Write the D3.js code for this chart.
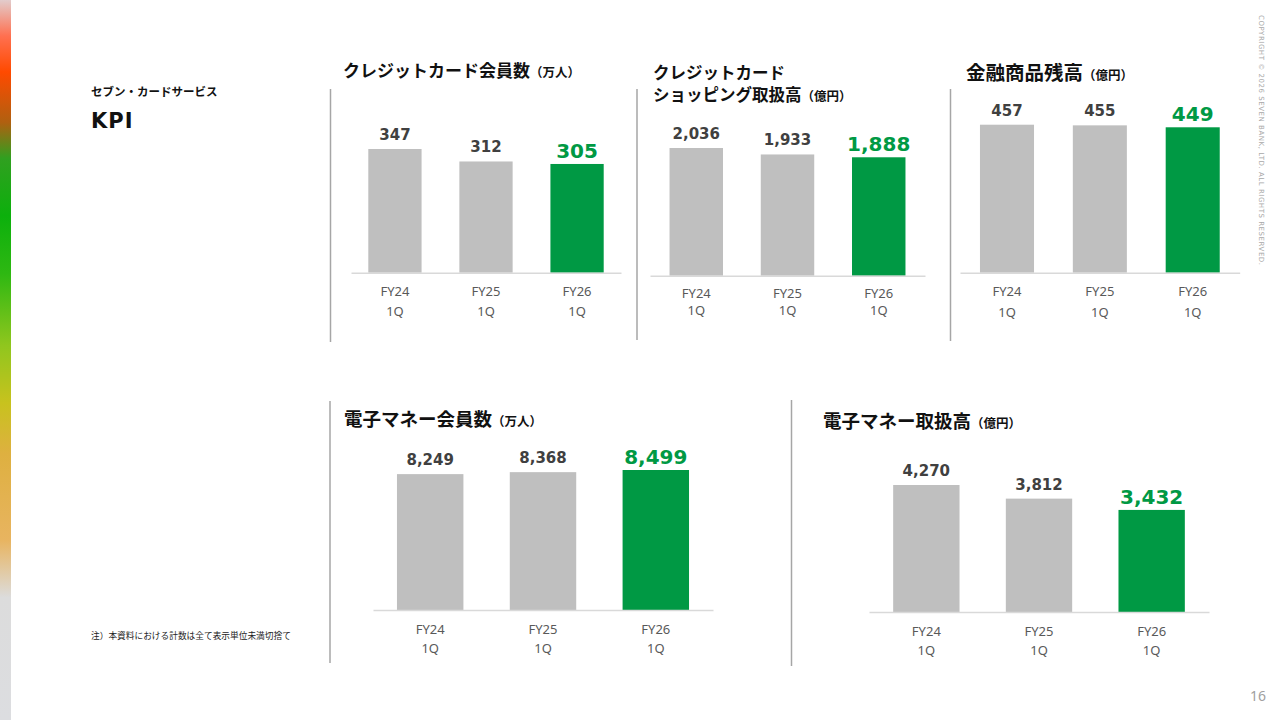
<!DOCTYPE html>
<html>
<head>
<meta charset="utf-8">
<script src="https://cdn.jsdelivr.net/npm/d3@7"></script>
<style>
  body { margin: 0; background: #fff; }
  svg { display: block; }
</style>
</head>
<body>
<div id="slide"></div>
<script>
// Data
var categories = ["FY24", "FY25", "FY26"];
var quarterLabel = "1Q";
var creditMembers = [347, 312, 305];       // 万人
var creditShopping = [2036, 1933, 1888];   // 億円
var financialBalance = [457, 455, 449];    // 億円
var emoneyMembers = [8249, 8368, 8499];    // 万人
var emoneyVolume = [4270, 3812, 3432];     // 億円

// Layout of the five small panels
var panels = [
    {values: creditMembers, title: ["クレジットカード会員数"], unit: "（万人）",
     titleX: 343, titleY: [77], titleSize: 17,
     axis: [351, 621], pad: [0.415, 0.19], base: 272.7, top: 149, catDy: [23.5, 43.5]},
    {values: creditShopping, title: ["クレジットカード", "ショッピング取扱高"], unit: "（億円）",
     titleX: 653, titleY: [79, 101], titleSize: 16.5,
     axis: [650, 925], pad: [0.414, 0.214], base: 275.7, top: 148, catDy: [22, 39]},
    {values: financialBalance, title: ["金融商品残高"], unit: "（億円）",
     titleX: 966, titleY: [79.5], titleSize: 19.5,
     axis: [960, 1239.7], pad: [0.418, 0.215], base: 272.7, top: 124.7, catDy: [23, 44]},
    {values: emoneyMembers, title: ["電子マネー会員数"], unit: "（万人）",
     titleX: 344, titleY: [426], titleSize: 18.5,
     axis: [373, 713], pad: [0.411, 0.2125], base: 610, top: 470, catDy: [23.5, 42.5]},
    {values: emoneyVolume, title: ["電子マネー取扱高"], unit: "（億円）",
     titleX: 823, titleY: [428], titleSize: 18.5,
     axis: [869, 1209], pad: [0.411, 0.2145], base: 612, top: 485, catDy: [23.5, 42.5]}
];

var dividers = [
    [330.5, 89, 342], [637, 89, 340], [950.5, 89, 341],
    [330, 401, 663], [791.5, 400, 666]
];

var jpFont = "'Noto Sans CJK JP', 'Noto Sans', sans-serif";
var numFont = "'DejaVu Sans', Verdana, sans-serif";
var gray = "#bfbfbf", green = "#009944";

var svg = d3.select("#slide").append("svg")
    .attr("width", 1280)
    .attr("height", 720);

// Left colour strip
var grad = svg.append("defs").append("linearGradient")
    .attr("id", "strip")
    .attr("x1", 0).attr("y1", 0).attr("x2", 0).attr("y2", 1);
[[0, "#e2cccc"], [0.05, "#ff7050"], [0.1, "#ff4a00"], [0.17, "#b06010"],
 [0.22, "#30a020"], [0.3, "#0cb00c"], [0.38, "#2eb812"], [0.48, "#90c61e"],
 [0.56, "#c8c21e"], [0.63, "#deb040"], [0.75, "#e8b460"], [0.83, "#dcdcdc"],
 [1, "#dcdde0"]].forEach(function(s) {
    grad.append("stop").attr("offset", s[0]).attr("stop-color", s[1]);
});
svg.append("rect")
    .attr("x", 0).attr("y", 0)
    .attr("width", 11).attr("height", 720)
    .attr("fill", "url(#strip)");

// Slide heading and note
svg.append("text")
    .attr("x", 91).attr("y", 96)
    .style("font-family", jpFont).style("font-weight", 700)
    .style("font-size", "11.5px").attr("fill", "#111")
    .text("セブン・カードサービス");
svg.append("text")
    .attr("x", 91).attr("y", 128)
    .style("font-family", numFont).style("font-weight", 700)
    .style("font-size", "21px").style("letter-spacing", "1px").attr("fill", "#111")
    .text("KPI");
svg.append("text")
    .attr("x", 91).attr("y", 638.5)
    .style("font-family", jpFont).style("font-size", "8.7px").attr("fill", "#222")
    .text("注）本資料における計数は全て表示単位未満切捨て");

// Copyright (vertical) and page number
svg.append("text")
    .attr("transform", "translate(1258.5,15) rotate(90)")
    .attr("textLength", 250).attr("lengthAdjust", "spacing")
    .style("font-family", numFont).style("font-size", "7px").attr("fill", "#a8a8a8")
    .text("COPYRIGHT © 2026 SEVEN BANK, LTD. ALL RIGHTS RESERVED.");
svg.append("text")
    .attr("x", 1266).attr("y", 701)
    .attr("text-anchor", "end")
    .style("font-family", "'Noto Sans', sans-serif").style("font-size", "14px").attr("fill", "#a0a0a0")
    .text("16");

// Divider lines
svg.selectAll(".divider")
    .data(dividers)
    .enter().append("line")
    .attr("class", "divider")
    .attr("x1", d => d[0]).attr("x2", d => d[0])
    .attr("y1", d => d[1]).attr("y2", d => d[2])
    .attr("stroke", "#a6a6a6").attr("stroke-width", 1.5);

// Each bar panel
panels.forEach(function(p) {
    var last = p.values.length - 1;

    var x = d3.scaleBand()
        .domain(categories)
        .range(p.axis)
        .paddingInner(p.pad[0])
        .paddingOuter(p.pad[1]);

    var y = d3.scaleLinear()
        .domain([0, d3.max(p.values)])
        .range([p.base, p.top]);

    var g = svg.append("g");

    // title, one text per line; unit goes after the last line
    p.title.forEach(function(line, i) {
        var t = g.append("text")
            .attr("x", p.titleX).attr("y", p.titleY[i])
            .style("font-family", jpFont).style("font-weight", 700)
            .style("font-size", p.titleSize + "px")
            .attr("fill", "#111")
            .text(line);
        if (i === p.title.length - 1) {
            t.append("tspan")
                .style("font-size", "12.5px")
                .text(p.unit);
        }
    });

    // bars
    g.selectAll(".bar")
        .data(p.values)
        .enter().append("rect")
        .attr("class", "bar")
        .attr("x", (d, i) => x(categories[i]))
        .attr("width", x.bandwidth())
        .attr("y", d => y(d))
        .attr("height", d => y(0) - y(d))
        .attr("fill", (d, i) => i === last ? green : gray);

    // value labels
    g.selectAll(".value")
        .data(p.values)
        .enter().append("text")
        .attr("class", "value")
        .attr("x", (d, i) => x(categories[i]) + x.bandwidth() / 2)
        .attr("y", (d, i) => y(d) - (i === last ? 6 : 9))
        .attr("text-anchor", "middle")
        .style("font-family", numFont).style("font-weight", 700)
        .style("font-size", (d, i) => i === last ? "20px" : "15px")
        .attr("fill", (d, i) => i === last ? green : "#404040")
        .text(d => d3.format(",")(d));

    // category axis
    var ax = g.append("g")
        .attr("transform", "translate(0," + p.base + ")")
        .call(d3.axisBottom(x).tickSize(0).tickSizeOuter(0));
    ax.select(".domain").attr("stroke", "#d9d9d9").attr("stroke-width", 1.5);
    ax.selectAll(".tick text").each(function(d) {
        var tx = d3.select(this)
            .text(null)
            .attr("y", 0).attr("dy", null)
            .attr("fill", "#595959")
            .style("font-family", "'Noto Sans', sans-serif")
            .style("font-size", "13px");
        tx.append("tspan").attr("x", 0).attr("y", p.catDy[0]).text(d);
        tx.append("tspan").attr("x", 0).attr("y", p.catDy[1]).text(quarterLabel);
    });
});
</script>
</body>
</html>
